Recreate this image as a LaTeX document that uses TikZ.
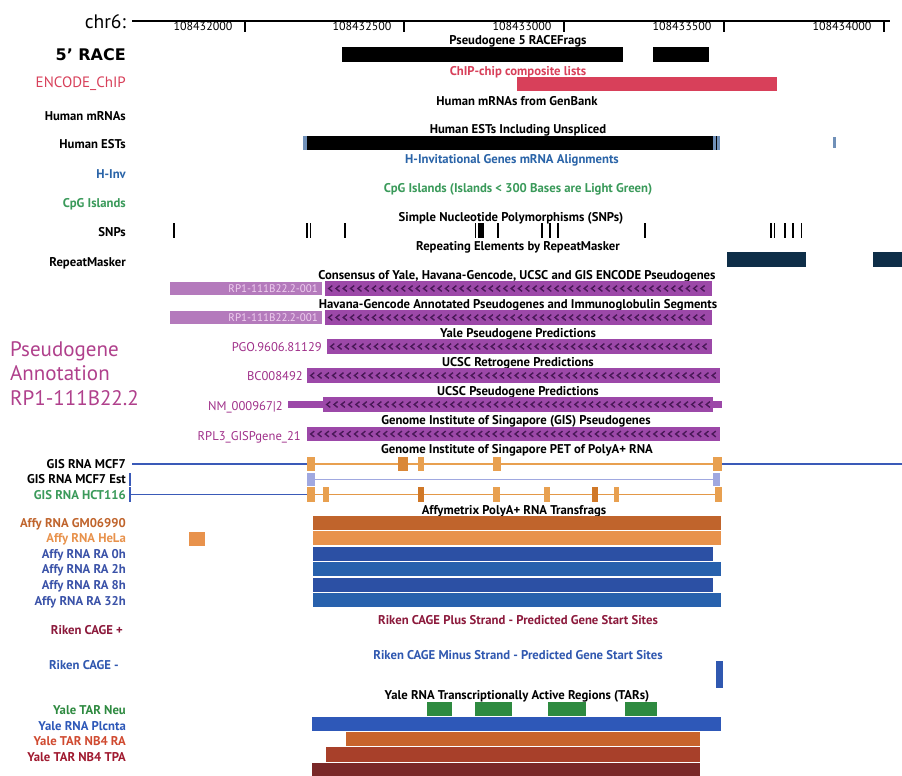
\documentclass[tikz,border=0pt]{standalone}
\usepackage{fontspec}
\setmainfont{PT Sans}
\newfontfamily\racefont{DejaVu Sans}
\definecolor{chipred}{HTML}{D8405A}
\definecolor{hinvblue}{HTML}{2A64A8}
\definecolor{cpggreen}{HTML}{3A9A5A}
\definecolor{pgmag}{HTML}{B0408C}
\definecolor{pgitem}{HTML}{A0308A}
\definecolor{pgbar}{HTML}{9C48A8}
\definecolor{pgchev}{HTML}{4A1858}
\definecolor{pglight}{HTML}{B47ABC}
\definecolor{pglighttext}{HTML}{F0D0F0}
\definecolor{gisblue}{HTML}{3A5AB8}
\definecolor{gisorange}{HTML}{E8A050}
\definecolor{gisdark}{HTML}{D07828}
\definecolor{estlav}{HTML}{A0A8E0}
\definecolor{affybrown}{HTML}{C0642C}
\definecolor{affyorange}{HTML}{E8924C}
\definecolor{affyblue}{HTML}{2C50A4}
\definecolor{affylab}{HTML}{3A52A8}
\definecolor{rikenred}{HTML}{8C1A3C}
\definecolor{rikenblue}{HTML}{3058B0}
\definecolor{targreen}{HTML}{2E8A40}
\definecolor{tarblue}{HTML}{2E58B8}
\definecolor{tarorange}{HTML}{C8642C}
\definecolor{tarbrown}{HTML}{A8402A}
\definecolor{tarmaroon}{HTML}{7A2828}
\definecolor{tarlab}{HTML}{D04A30}
\definecolor{tpalab}{HTML}{A01A30}
\definecolor{repeatc}{HTML}{0E2E48}
\definecolor{estedge}{HTML}{7090B8}
\newcommand\chevrow[4]{\foreach \i in {1,...,#4}{\draw[chev] ({#1+\i*7.3},#3-2.9) -- ++(-3.6,2.9) -- ++(3.6,2.9);}}
\begin{document}
\begin{tikzpicture}[x=1pt,y=-1pt,
  font=\bfseries\fontsize{12.7}{13}\selectfont,
  lab/.style={anchor=base east, inner sep=0pt},
  ttl/.style={anchor=base, inner sep=0pt},
  itm/.style={anchor=base east, inner sep=0pt, text=pgitem, font=\fontsize{12.6}{13}\selectfont},
  rul/.style={anchor=base, inner sep=0pt, font=\fontsize{12}{12}\selectfont},
  chev/.style={draw=pgchev, line width=1.4pt},
  snp/.style={line width=1.4pt},
  gline/.style={line width=1.4pt},
  big/.style={anchor=base west, inner sep=0pt, text=pgmag, font=\fontsize{21}{22}\selectfont}]
\useasboundingbox[fill=white] (0,0) rectangle (902,776);

% ruler
\node[anchor=base east, inner sep=0pt, font=\fontsize{19.5}{20}\selectfont] (chr) at (126,29) {chr6:};
\draw[line width=1.2pt] (132,21) -- (890,21);
\foreach \t/\l in {245/108432000,404/108432500,564/108433000,724/108433500,884/108434000}{
  \draw[line width=1.6pt] (\t,21) -- (\t,32);
  \node[rul] (r\l) at (\t-42,31) {\l};
}

% left labels
\node[lab, font=\racefont\bfseries\fontsize{16}{17}\selectfont] (lrace) at (126,60) {5’ RACE};
\node[lab, text=chipred, font=\fontsize{15}{16}\selectfont] (lchip) at (126,87) {ENCODE\_ChIP};
\node[lab] (lmrna) at (126,120) {Human mRNAs};
\node[lab] (lest) at (126,148) {Human ESTs};
\node[lab, text=hinvblue] (lhinv) at (126,178) {H-Inv};
\node[lab, text=cpggreen] (lcpg) at (126,207) {CpG Islands};
\node[lab] (lsnp) at (126,236.5) {SNPs};
\node[lab] (lrep) at (126,266) {RepeatMasker};
\node[big] (pa) at (10,356) {Pseudogene};
\node[big] (pb) at (10,380.5) {Annotation};
\node[big] (pc) at (10,405) {RP1-111B22.2};
\node[lab] (lg1) at (126,468) {GIS RNA MCF7};
\node[lab] (lg2) at (126,483) {GIS RNA MCF7 Est};
\node[lab, text=cpggreen] (lg3) at (126,499) {GIS RNA HCT116};
\node[lab, text=affybrown] (la1) at (126,527) {Affy RNA GM06990};
\node[lab, text=affyorange] (la2) at (126,542) {Affy RNA HeLa};
\node[lab, text=affylab] (la3) at (126,558) {Affy RNA RA 0h};
\node[lab, text=affylab] (la4) at (126,573) {Affy RNA RA 2h};
\node[lab, text=affylab] (la5) at (126,589) {Affy RNA RA 8h};
\node[lab, text=affylab] (la6) at (126,605) {Affy RNA RA 32h};
\node[lab, text=rikenred] (lr1) at (123,634) {Riken CAGE +};
\node[lab, text=rikenblue] (lr2) at (119,669) {Riken CAGE -};
\node[lab, text=targreen] (ly1) at (126,714) {Yale TAR Neu};
\node[lab, text=tarblue] (ly2) at (126,730) {Yale RNA Plcnta};
\node[lab, text=tarlab] (ly3) at (126,745) {Yale TAR NB4 RA};
\node[lab, text=tpalab] (ly4) at (126,761) {Yale TAR NB4 TPA};

% track titles
\node[ttl] (t1) at (518,45) {Pseudogene 5 RACEFrags};
\node[ttl, text=chipred] (t2) at (518,75) {ChIP-chip composite lists};
\node[ttl] (t3) at (517,105) {Human mRNAs from GenBank};
\node[ttl] (t4) at (518,133) {Human ESTs Including Unspliced};
\node[ttl, text=hinvblue] (t5) at (512,163) {H-Invitational Genes mRNA Alignments};
\node[ttl, text=cpggreen] (t6) at (518,192) {CpG Islands (Islands < 300 Bases are Light Green)};
\node[ttl] (t7) at (511,221) {Simple Nucleotide Polymorphisms (SNPs)};
\node[ttl] (t8) at (518,250) {Repeating Elements by RepeatMasker};
\node[ttl] (t9) at (517,279) {Consensus of Yale, Havana-Gencode, UCSC and GIS ENCODE Pseudogenes};
\node[ttl] (t10) at (518,308) {Havana-Gencode Annotated Pseudogenes and Immunoglobulin Segments};
\node[ttl] (t11) at (518,337) {Yale Pseudogene Predictions};
\node[ttl] (t12) at (518,366) {UCSC Retrogene Predictions};
\node[ttl] (t13) at (518,395) {UCSC Pseudogene Predictions};
\node[ttl] (t14) at (516,424) {Genome Institute of Singapore (GIS) Pseudogenes};
\node[ttl] (t15) at (517,453) {Genome Institute of Singapore PET of PolyA+ RNA};
\node[ttl] (t16) at (514,514) {Affymetrix PolyA+ RNA Transfrags};
\node[ttl, text=rikenred] (t17) at (518,624) {Riken CAGE Plus Strand - Predicted Gene Start Sites};
\node[ttl, text=rikenblue] (t18) at (518,659) {Riken CAGE Minus Strand - Predicted Gene Start Sites};
\node[ttl] (t19) at (517,699) {Yale RNA Transcriptionally Active Regions (TARs)};

% 5' RACE
\fill (342,47) rectangle (623,62);
\fill (653,47) rectangle (709,62);
% ChIP
\fill[chipred] (517,77) rectangle (777,91);
% ESTs
\fill[estedge] (303,136) rectangle (307,150);
\fill (307,136) rectangle (713,150);
\fill[estedge] (713,136) rectangle (720,150);
\draw[line width=0.8pt] (716,136) -- (716,150);
\fill[estedge] (833,137) rectangle (836,148);
% SNPs
\foreach \s in {174,307,310.5,345,475.5,498,542,550,558,645,771,774.5,785,793,801.5}{
  \draw[snp] (\s,223) -- (\s,238);
}
\fill (477.5,223) rectangle (484,238);
% RepeatMasker
\fill[repeatc] (727,252) rectangle (806,267);
\fill[repeatc] (873,252) rectangle (902,267);

% pseudogene tracks
\fill[pglight] (170,282) rectangle (322,295);
\node[anchor=base east, inner sep=0pt, text=pglighttext, font=\fontsize{11}{12}\selectfont] (rp1) at (318,292) {RP1-111B22.2-001};
\fill[pgbar] (325,281) rectangle (712,296);
\chevrow{325}{712}{288.5}{52}
\fill[pglight] (170,311) rectangle (322,324);
\node[anchor=base east, inner sep=0pt, text=pglighttext, font=\fontsize{11}{12}\selectfont] (rp2) at (318,321) {RP1-111B22.2-001};
\fill[pgbar] (325,310) rectangle (712,325);
\chevrow{325}{712}{317.5}{52}
\node[itm] (i1) at (322,351) {PGO.9606.81129};
\fill[pgbar] (327,339) rectangle (712,354);
\chevrow{327}{712}{346.5}{52}
\node[itm] (i2) at (303,380) {BC008492};
\fill[pgbar] (307,368) rectangle (720,383);
\chevrow{307}{720}{375.5}{56}
\node[itm] (i3) at (283,410) {NM\_000967|2};
\fill[pgbar] (288,401) rectangle (722,408);
\fill[pgbar] (323,397) rectangle (713,412);
\chevrow{323}{713}{404.5}{53}
\node[itm] (i4) at (301,440) {RPL3\_GISPgene\_21};
\fill[pgbar] (307,427) rectangle (720,441);
\chevrow{307}{720}{434}{56}

% GIS PET
\draw[gline, gisblue] (132,464) -- (308,464);
\draw[line width=1.2pt, gisorange] (315,464) -- (713,464);
\draw[gline, gisblue] (722,464) -- (902,464);
\foreach \a/\b in {307/315,418/424,493/501,713/722}{\fill[gisorange] (\a,457) rectangle (\b,471);}
\fill[gisdark!60!gisorange] (398,457) rectangle (408,471);
\draw[line width=1.2pt, gisblue] (130,473) -- (130,486);
\draw[line width=1pt, estlav] (315,479.5) -- (713,479.5);
\fill[estlav] (307,473) rectangle (315,486);
\fill[estlav] (713,473) rectangle (720,486);
\draw[line width=1.2pt, gisblue] (130,487) -- (130,502);
\draw[gline, gisblue] (130,494.5) -- (307,494.5);
\draw[line width=1.2pt, gisorange!80!gisdark] (315,494.5) -- (715,494.5);
\foreach \a/\b in {307/315,323/329,493/500,544/550,614/619,715/722}{\fill[gisorange] (\a,487) rectangle (\b,502);}
\foreach \a/\b in {418/424,592/598}{\fill[gisdark] (\a,487) rectangle (\b,502);}

% Affy
\fill[affybrown] (313,516) rectangle (721,530);
\fill[affyorange] (313,531) rectangle (721,545);
\fill[affyorange] (189,532) rectangle (205,546);
\fill[affyblue] (313,547) rectangle (713,561);
\fill[affyblue!90!cyan] (313,562) rectangle (721,576);
\fill[affyblue] (313,578) rectangle (713,592);
\fill[affyblue!90!cyan] (313,593) rectangle (721,607);

% Riken minus
\fill[rikenblue] (716,661) rectangle (723,688);

% Yale TARs
\foreach \a/\b in {427/452,475/512,548/586,625/657}{\fill[targreen] (\a,702) rectangle (\b,716);}
\fill[tarblue] (312,717) rectangle (721,731);
\fill[tarorange] (346,732) rectangle (700,746);
\fill[tarbrown] (326,747) rectangle (700,762);
\fill[tarmaroon] (312,763) rectangle (700,776);
\end{tikzpicture}
\end{document}
